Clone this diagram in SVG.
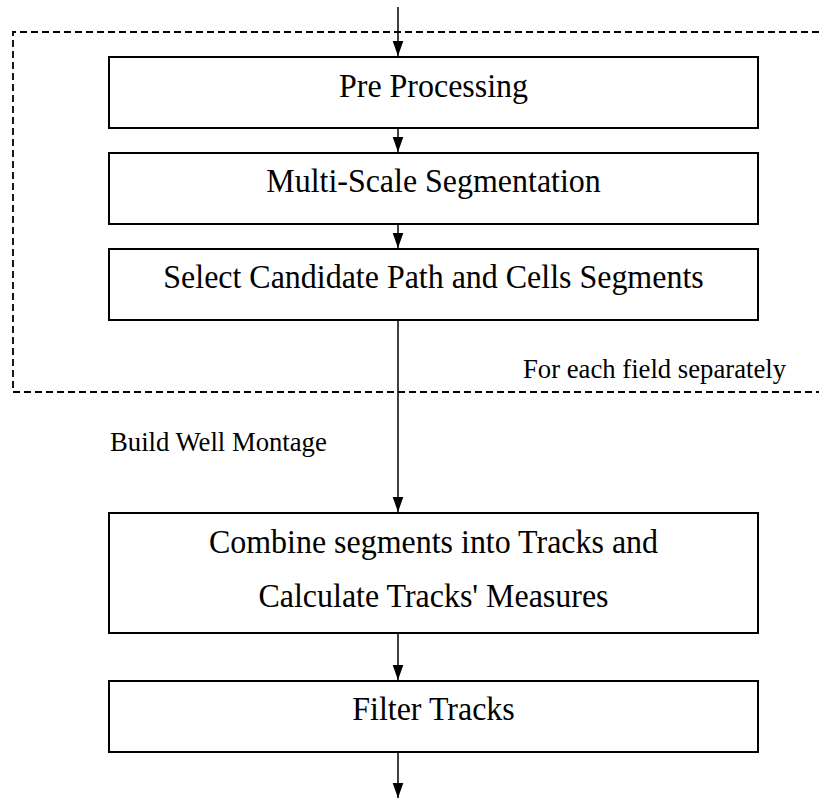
<svg xmlns="http://www.w3.org/2000/svg" width="819" height="798" viewBox="0 0 819 798">
  <style>
    .box { fill: #ffffff; stroke: #000000; stroke-width: 2; }
    .label { font-family: "Liberation Serif", "Times New Roman", serif; font-size: 34px; fill: #000000; text-anchor: middle; }
    .note { font-family: "Liberation Serif", "Times New Roman", serif; font-size: 26.7px; fill: #000000; }
    .flow { stroke: #000000; stroke-width: 1.5; fill: none; marker-end: url(#tip); }
    .frame { stroke: #000000; stroke-width: 1.8; fill: none; stroke-dasharray: 7 4; }
  </style>
  <defs>
    <marker id="tip" markerUnits="userSpaceOnUse" markerWidth="16" markerHeight="12" viewBox="0 0 16 12" refX="15.5" refY="6" orient="auto">
      <path d="M0,0.5 L15.5,6 L0,11.5 Z" fill="#000000"/>
    </marker>
  </defs>
  <rect width="819" height="798" fill="#ffffff"/>

  <!-- per-field region, open on the right side -->
  <path class="frame" d="M830,32 H13 V392 H830"/>
  <text class="note" x="523" y="378">For each field separately</text>
  <text class="note" x="110" y="451">Build Well Montage</text>

  <g id="connectors">
    <line class="flow" x1="398" y1="7" x2="398" y2="56"/>
    <line class="flow" x1="398" y1="128" x2="398" y2="152"/>
    <line class="flow" x1="398" y1="224" x2="398" y2="248"/>
    <line class="flow" x1="398" y1="320" x2="398" y2="512"/>
    <line class="flow" x1="398" y1="633" x2="398" y2="680"/>
    <line class="flow" x1="398" y1="752" x2="398" y2="798"/>
  </g>

  <!-- box labels are set slightly condensed -->
  <g id="pre-processing">
    <rect class="box" x="109" y="57" width="649" height="71"/>
    <text class="label" transform="translate(433.5 97) scale(0.94 1)">Pre Processing</text>
  </g>
  <g id="multi-scale-segmentation">
    <rect class="box" x="109" y="153" width="649" height="71"/>
    <text class="label" transform="translate(433.5 192) scale(0.94 1)">Multi-Scale Segmentation</text>
  </g>
  <g id="select-candidates">
    <rect class="box" x="109" y="249" width="649" height="71"/>
    <text class="label" transform="translate(433.5 288) scale(0.94 1)">Select Candidate Path and Cells Segments</text>
  </g>
  <g id="combine-segments">
    <rect class="box" x="109" y="513" width="649" height="120"/>
    <text class="label" transform="translate(433.5 553) scale(0.94 1)">Combine segments into Tracks and</text>
    <text class="label" transform="translate(433.5 607) scale(0.94 1)">Calculate Tracks' Measures</text>
  </g>
  <g id="filter-tracks">
    <rect class="box" x="109" y="681" width="649" height="71"/>
    <text class="label" transform="translate(433.5 720) scale(0.94 1)">Filter Tracks</text>
  </g>
</svg>
